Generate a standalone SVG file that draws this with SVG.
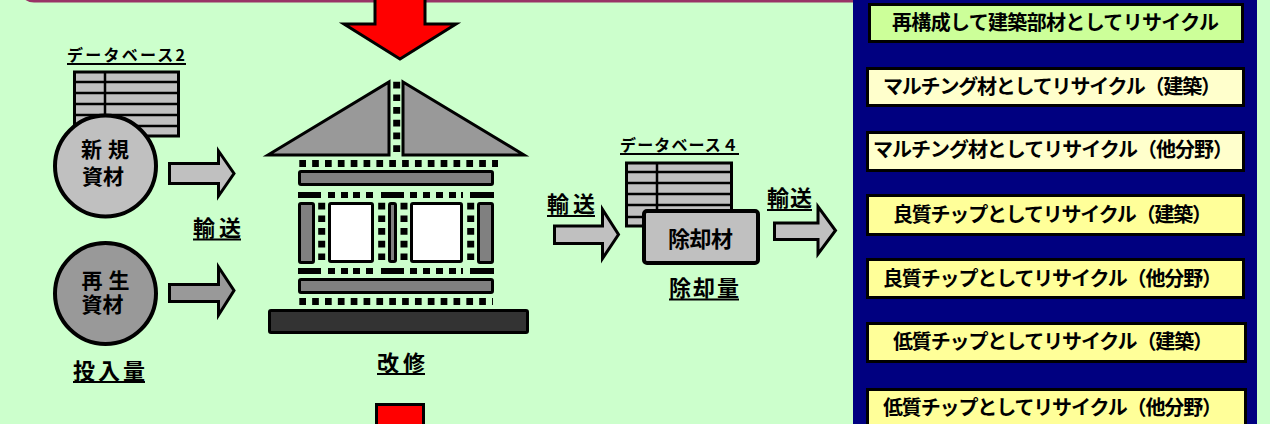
<svg xmlns="http://www.w3.org/2000/svg" xmlns:xlink="http://www.w3.org/1999/xlink" width="1270" height="424" viewBox="0 0 1270 424">
  <style>
    .jp { font-family: "Noto Sans CJK JP", "Noto Sans CJK SC", sans-serif; font-weight: bold; fill: #000; }
    .lbl { font-size: 22px; }
    .db { font-size: 16px; }
    .circ { font-family: "Liberation Sans", "Noto Sans CJK JP", sans-serif; font-size: 21px; }
    .item { font-size: 20px; }
    .ul { stroke: #000; stroke-width: 2; }
    .blk { stroke: #000; stroke-width: 3; stroke-linejoin: miter; }
    .gray { fill: #C0C0C0; }
    .dark { fill: #999999; }
    .mid { fill: #808080; }
    .red { fill: #FF0000; }
    .tbl { fill: #C0C0C0; stroke: #000; stroke-width: 3; }
    .row { stroke: #000; stroke-width: 2.5; }
    .dots { stroke: #000; stroke-width: 7; fill: none; }
    .panel-box { stroke: #000; stroke-width: 3; }
  </style>
  <defs>
    <!-- broken black band used above and below the windows -->
    <g id="dashRow">
      <rect x="298" y="0" width="23" height="6"/>
      <rect x="328" y="0" width="7" height="6"/>
      <rect x="341" y="0" width="7" height="6"/>
      <rect x="353" y="0" width="7" height="6"/>
      <rect x="366" y="0" width="7" height="6"/>
      <rect x="381" y="0" width="23" height="6"/>
      <rect x="410" y="0" width="7" height="6"/>
      <rect x="423" y="0" width="7" height="6"/>
      <rect x="436" y="0" width="7" height="6"/>
      <rect x="449" y="0" width="7" height="6"/>
      <rect x="461" y="0" width="2" height="6"/>
      <rect x="470" y="0" width="24" height="6"/>
    </g>
  </defs>

  <!-- background -->
  <rect x="0" y="0" width="1270" height="424" fill="#CCFFCC"/>

  <!-- rounded frame entering from above -->
  <rect x="20" y="-41" width="860" height="42" rx="14" fill="#CCFFCC" stroke="#993366" stroke-width="3"/>

  <!-- database 2 -->
  <g id="database2">
    <text class="jp db" x="67" y="61" textLength="118" lengthAdjust="spacing">データベース2</text>
    <line class="ul" x1="67" y1="64" x2="186" y2="64"/>
    <rect class="tbl" x="74.5" y="72" width="104" height="64"/>
    <line class="row" x1="74" y1="82" x2="179" y2="82"/>
    <line class="row" x1="74" y1="93" x2="179" y2="93"/>
    <line class="row" x1="74" y1="104" x2="179" y2="104"/>
    <line class="row" x1="74" y1="115" x2="179" y2="115"/>
    <line class="row" x1="74" y1="126" x2="179" y2="126"/>
    <line class="row" x1="105" y1="72" x2="105" y2="136"/>
  </g>

  <!-- new materials -->
  <g id="newMaterial">
    <circle cx="105.5" cy="166" r="50.5" fill="#C0C0C0" stroke="#000" stroke-width="4"/>
    <text class="jp circ" text-anchor="middle"><tspan x="105" y="156.5">新 規</tspan><tspan x="103" y="183.5">資材</tspan></text>
  </g>

  <!-- recycled materials -->
  <g id="recycledMaterial">
    <circle cx="105.5" cy="293.5" r="50.5" fill="#999999" stroke="#000" stroke-width="4"/>
    <text class="jp circ" text-anchor="middle"><tspan x="105.5" y="288">再 生</tspan><tspan x="102.5" y="311.5">資材</tspan></text>
  </g>

  <g id="inputLabel">
    <text class="jp lbl" x="73" y="378.5" textLength="72" lengthAdjust="spacing">投入量</text>
    <line class="ul" x1="73" y1="382" x2="145" y2="382"/>
  </g>

  <!-- house under renovation -->
  <g id="house">
    <polygon class="blk dark" points="268,155 389,82 389,155"/>
    <polygon class="blk dark" points="403,82 524,155 403,155"/>
    <line class="dots" x1="396.7" y1="81.7" x2="396.7" y2="152" stroke-dasharray="6.7 6"/>
    <line class="dots" x1="299.3" y1="163.5" x2="498" y2="163.5" stroke-dasharray="6.7 6.15"/>
    <rect class="blk mid" x="299.5" y="171.5" width="193" height="13" rx="1.5"/>
    <use xlink:href="#dashRow" y="192"/>
    <rect class="blk mid" x="299.5" y="203.5" width="14" height="59" rx="1.5"/>
    <line class="dots" x1="321.7" y1="202.7" x2="321.7" y2="260" stroke-dasharray="6.7 6"/>
    <rect class="blk" x="329.5" y="203.5" width="43" height="58" rx="1.5" fill="#FFFFFF"/>
    <line class="dots" x1="381.7" y1="202.7" x2="381.7" y2="260" stroke-dasharray="6.7 6"/>
    <rect class="blk mid" x="389.5" y="203.5" width="6" height="58" rx="1.5"/>
    <line class="dots" x1="404" y1="202.7" x2="404" y2="260" stroke-dasharray="6.7 6"/>
    <rect class="blk" x="411.5" y="203.5" width="50" height="58" rx="1.5" fill="#FFFFFF"/>
    <line class="dots" x1="470.7" y1="202.7" x2="470.7" y2="260" stroke-dasharray="6.7 6"/>
    <rect class="blk mid" x="478.5" y="203.5" width="14" height="59" rx="1.5"/>
    <use xlink:href="#dashRow" y="268"/>
    <rect class="blk mid" x="299.5" y="279.5" width="193" height="13" rx="1.5"/>
    <line class="dots" x1="299.3" y1="301.5" x2="493" y2="301.5" stroke-dasharray="6.7 6.15"/>
    <rect class="blk" x="269.5" y="310.5" width="258" height="22" rx="1.5" fill="#333333"/>
    <text class="jp lbl" x="377" y="370.5" textLength="48" lengthAdjust="spacing">改修</text>
    <line class="ul" x1="377" y1="374" x2="425" y2="374"/>
  </g>

  <!-- database 4 and demolished material -->
  <g id="database4">
    <text class="jp db" x="620" y="151" textLength="118" lengthAdjust="spacing">データベース４</text>
    <line class="ul" x1="620" y1="154" x2="739" y2="154"/>
    <rect class="tbl" x="626.5" y="163" width="105" height="63"/>
    <line class="row" x1="626" y1="172" x2="732" y2="172"/>
    <line class="row" x1="626" y1="183" x2="732" y2="183"/>
    <line class="row" x1="626" y1="194" x2="732" y2="194"/>
    <line class="row" x1="626" y1="205" x2="732" y2="205"/>
    <line class="row" x1="626" y1="217" x2="732" y2="217"/>
    <line class="row" x1="657" y1="163" x2="657" y2="226"/>
  </g>
  <g id="demolished">
    <rect x="644" y="211" width="114" height="52" rx="3" fill="#C0C0C0" stroke="#000" stroke-width="4"/>
    <text class="jp lbl" x="668" y="246.5" textLength="65" lengthAdjust="spacing">除却材</text>
    <text class="jp lbl" x="669" y="295.5" textLength="70" lengthAdjust="spacing">除却量</text>
    <line class="ul" x1="669" y1="299.5" x2="739" y2="299.5"/>
  </g>

  <!-- recycling destinations -->
  <g id="recyclePanel">
    <rect x="853" y="-5" width="404" height="440" fill="#000080"/>
  </g>
  <g id="item1">
    <rect class="panel-box" x="869.5" y="4.5" width="373" height="37" fill="#CCFF99"/>
    <text class="jp item" x="892" y="29.5" textLength="327" lengthAdjust="spacing">再構成して建築部材としてリサイクル</text>
  </g>
  <g id="item2">
    <rect class="panel-box" x="867.5" y="68.5" width="376" height="37" fill="#FFFFCC"/>
    <text class="jp item" x="883" y="93.5" textLength="338" lengthAdjust="spacing">マルチング材としてリサイクル（建築）</text>
  </g>
  <g id="item3">
    <rect class="panel-box" x="867.5" y="132.5" width="376" height="38" fill="#FFFFCC"/>
    <text class="jp item" x="873" y="156.5" textLength="360" lengthAdjust="spacing">マルチング材としてリサイクル（他分野）</text>
  </g>
  <g id="item4">
    <rect class="panel-box" x="867.5" y="195.5" width="376" height="39" fill="#FFFF99"/>
    <text class="jp item" x="893" y="221.5" textLength="319" lengthAdjust="spacing">良質チップとしてリサイクル（建築）</text>
  </g>
  <g id="item5">
    <rect class="panel-box" x="867.5" y="259.5" width="376" height="38" fill="#FFFF99"/>
    <text class="jp item" x="883" y="285.5" textLength="339" lengthAdjust="spacing">良質チップとしてリサイクル（他分野）</text>
  </g>
  <g id="item6">
    <rect class="panel-box" x="867.5" y="323.5" width="378" height="38" fill="#FFFF99"/>
    <text class="jp item" x="893" y="348.5" textLength="320" lengthAdjust="spacing">低質チップとしてリサイクル（建築）</text>
  </g>
  <g id="item7">
    <rect class="panel-box" x="867.5" y="389.5" width="378" height="40" fill="#FFFF99"/>
    <text class="jp item" x="883" y="414.5" textLength="339" lengthAdjust="spacing">低質チップとしてリサイクル（他分野）</text>
  </g>

  <!-- flow arrows -->
  <g id="connectors">
    <polygon class="blk red" points="375,-5 425,-5 425,24 456,24 400,59 344,24 375,24"/>
    <polygon class="blk red" points="376.5,404.5 423.5,404.5 423.5,440 376.5,440"/>
    <polygon class="blk gray" points="169.5,163.5 218.5,163.5 218.5,151 234,173.5 218.5,196 218.5,183.5 169.5,183.5"/>
    <polygon class="blk dark" points="169.5,284.5 218.5,284.5 218.5,267 234,290.5 218.5,315 218.5,301.5 169.5,301.5"/>
    <polygon class="blk gray" points="554.5,226 602.5,226 602.5,209.5 618.5,234.5 602.5,258.5 602.5,243.5 554.5,243.5"/>
    <polygon class="blk gray" points="774.5,223 818,223 818,206.5 835.5,230.5 818,254 818,239.5 774.5,239.5"/>
    <text class="jp lbl" x="193" y="235.5" textLength="48" lengthAdjust="spacing">輸送</text>
    <line class="ul" x1="193" y1="239.5" x2="241" y2="239.5"/>
    <text class="jp lbl" x="547" y="211.5" textLength="48" lengthAdjust="spacing">輸送</text>
    <line class="ul" x1="547" y1="216" x2="595" y2="216"/>
    <text class="jp lbl" x="767" y="205.5" textLength="45" lengthAdjust="spacing">輸送</text>
    <line class="ul" x1="767" y1="210" x2="812" y2="210"/>
  </g>
</svg>
